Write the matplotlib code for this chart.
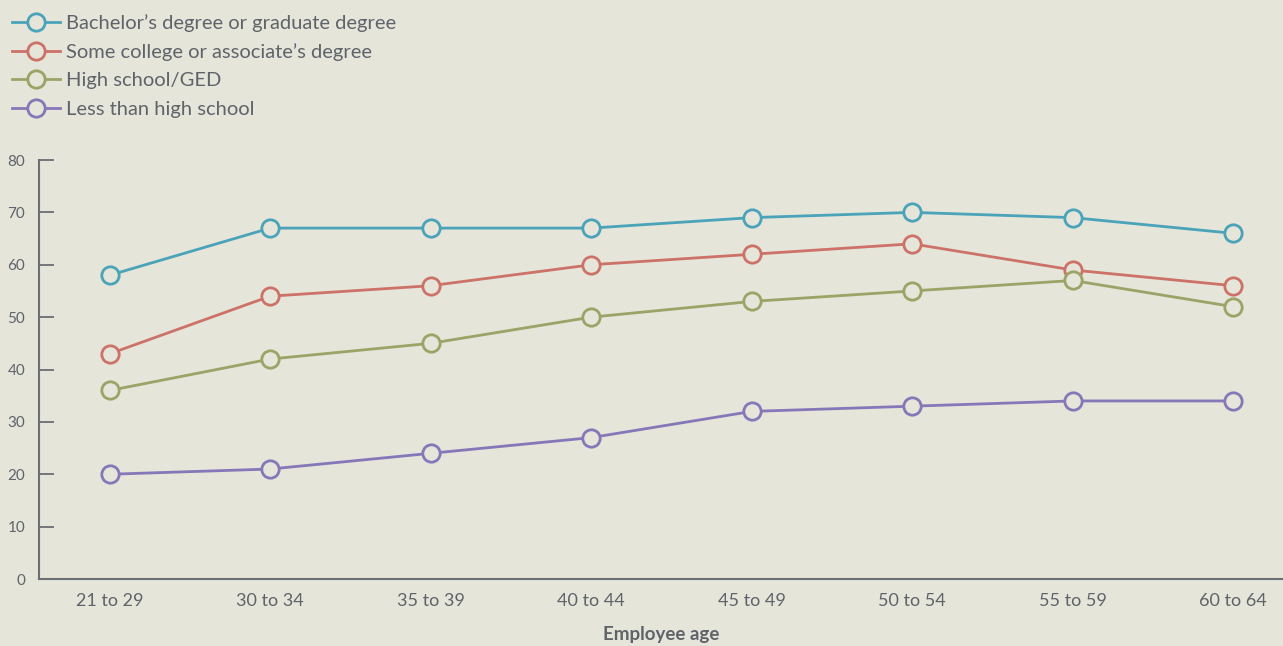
import matplotlib.pyplot as plt

# Employment rate by education level and age group
ages = ["21 to 29", "30 to 34", "35 to 39", "40 to 44",
        "45 to 49", "50 to 54", "55 to 59", "60 to 64"]
bachelor = [58, 67, 67, 67, 69, 70, 69, 66]
some_college = [43, 54, 56, 60, 62, 64, 59, 56]
high_school = [36, 42, 45, 50, 53, 55, 57, 52]
less_than_hs = [20, 21, 24, 27, 32, 33, 34, 34]

series_names = ["Bachelor\u2019s degree or graduate degree",
                "Some college or associate\u2019s degree",
                "High school/GED",
                "Less than high school"]
colors = ["#4aa3b8", "#cc7268", "#9aa466", "#8677b8"]

bg = "#e5e5da"
txt = "#5f636a"
plt.rcParams['font.family'] = ['Lato', 'DejaVu Sans']

fig = plt.figure(figsize=(12.83, 6.46), dpi=100, facecolor=bg)
ax = fig.add_axes([0.0304, 0.1037, 0.9696, 0.6486], facecolor=bg)

x = range(len(ages))
handles = []
for vals, name, c in zip([bachelor, some_college, high_school, less_than_hs],
                         series_names, colors):
    h, = ax.plot(x, vals, color=c, lw=2, marker="o", ms=12.5,
                 mfc=bg, mec=c, mew=2, label=name, zorder=3)
    handles.append(h)

ax.set_xlim(-0.44, 7.31)
ax.set_ylim(0, 80)
ax.set_yticks(range(0, 81, 10))
ax.set_xticks(list(x))
ax.set_xticklabels(ages)

for s in ["top", "right"]:
    ax.spines[s].set_visible(False)
for s in ["left", "bottom"]:
    ax.spines[s].set_color("#6b6e75")
    ax.spines[s].set_linewidth(1.5)

ax.tick_params(axis="y", direction="in", length=11, width=1.3,
               color="#6b6e75", labelsize=11, labelcolor=txt, pad=10)
ax.tick_params(axis="x", length=0, labelsize=13, labelcolor=txt, pad=10)
ax.set_xlabel("Employee age", fontsize=13.5, fontweight="bold", color=txt, labelpad=12)

fig.legend(handles=handles, loc="upper left", bbox_to_anchor=(-0.002, 1.0),
           frameon=False, fontsize=14.5, labelcolor=txt, handlelength=2.4,
           handletextpad=0.3, labelspacing=0.56, borderaxespad=0.3)

plt.savefig("out.png", dpi=100, facecolor=bg)
